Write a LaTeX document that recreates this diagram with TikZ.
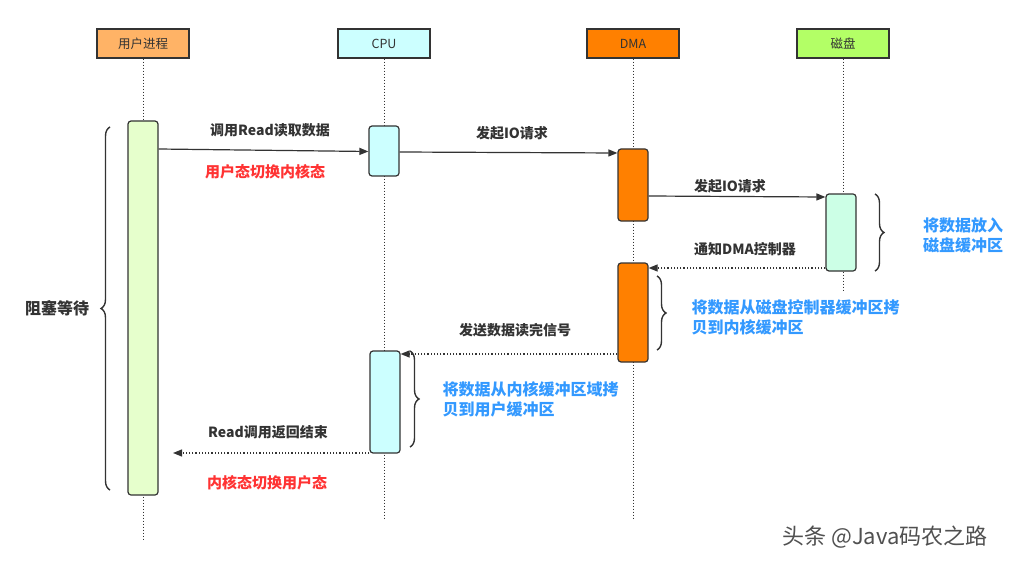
\documentclass[tikz,border=0pt]{standalone}
\usepackage{fontspec}
\setmainfont{Noto Sans CJK SC}
\usetikzlibrary{arrows.meta,decorations.pathreplacing}
\definecolor{ln}{HTML}{333333}
\definecolor{redt}{HTML}{FF3333}
\definecolor{bluet}{HTML}{3399FF}
\tikzset{
  head/.style={draw=ln,line width=1.2pt,minimum width=92pt,minimum height=29pt,font=\fontsize{12.5}{14}\selectfont,text=ln,inner sep=0pt},
  act/.style={draw=ln,line width=1.2pt,rounded corners=3pt,minimum width=30pt,inner sep=0pt},
  life/.style={ln,line width=1pt,dotted},
  msg/.style={ln,line width=1.2pt,-{Triangle[length=9pt,width=7pt]}},
  ret/.style={msg,dotted},
  lbl/.style={font=\fontsize{14}{16}\selectfont\bfseries,text=ln},
  red/.style={font=\fontsize{15}{17}\selectfont\bfseries,text=redt},
  blue/.style={font=\fontsize{16}{20}\selectfont\bfseries,text=bluet,align=left},
  br/.style={decorate,decoration={brace,amplitude=9pt},ln,line width=1.4pt}
}
\begin{document}
\begin{tikzpicture}[x=1pt,y=-1pt]
\useasboundingbox[fill=white] (0,0) rectangle (1027,564);
% headers
\node[head,fill={rgb,255:red,255;green,179;blue,102}] (hu) at (143,43.5) {用户进程};
\node[head,fill={rgb,255:red,204;green,255;blue,255}] (hc) at (384,43.5) {CPU};
\node[head,fill={rgb,255:red,255;green,128;blue,0}] (hd) at (633,43.5) {DMA};
\node[head,fill={rgb,255:red,179;green,255;blue,102}] (hk) at (843,43.5) {磁盘};
\coordinate (eu) at (143,540);
\coordinate (ec) at (384,520);
\coordinate (ed) at (633,520);
\coordinate (ek) at (843,290);
\draw[life] (hu) -- (eu);
\draw[life] (hc) -- (ec);
\draw[life] (hd) -- (ed);
\draw[life] (hk) -- (ek);
% activations
\node[act,fill={rgb,255:red,230;green,255;blue,204},minimum height=374pt] (au) at (143,308) {};
\node[act,fill={rgb,255:red,204;green,255;blue,255},minimum height=50pt] (ac1) at (384,151) {};
\node[act,fill={rgb,255:red,255;green,128;blue,0},minimum height=72pt] (ad1) at (633,185) {};
\node[act,fill={rgb,255:red,204;green,255;blue,230},minimum height=77pt] (ak) at (841,232.5) {};
\node[act,fill={rgb,255:red,255;green,128;blue,0},minimum height=99pt] (ad2) at (633,312.5) {};
\node[act,fill={rgb,255:red,204;green,255;blue,255},minimum height=102pt] (ac2) at (385,402) {};
% messages
\draw[msg] (au.east |- 0,149) -- (ac1.west |- 0,151.5);
\draw[msg] (ac1.east |- 0,152) -- (ad1.west |- 0,153);
\draw[msg] (ad1.east |- 0,196) -- (ak.west |- 0,197);
\draw[ret] (ak.west |- 0,268) -- (ad2.east |- 0,268);
\draw[ret] (ad2.west |- 0,354) -- (ac2.east |- 0,354);
\coordinate (rt) at (173,453);
\draw[ret] (ac2.west |- 0,453) -- (rt);
% labels
\node[lbl] (l1) at (270,130) {调用Read读取数据};
\node[red] (r1) at (265,172) {用户态切换内核态};
\node[lbl] (l2) at (512,133) {发起IO请求};
\node[lbl] (l3) at (730,186) {发起IO请求};
\node[lbl] (l4) at (745,249) {通知DMA控制器};
\node[lbl] (l5) at (515,330) {发送数据读完信号};
\node[lbl] (l6) at (268,432) {Read调用返回结束};
\node[red] (r2) at (267,483) {内核态切换用户态};
% braces
\draw[br] (110,490) -- (110,127);
\node[font=\fontsize{16}{18}\selectfont\bfseries,text=ln] (bw) at (57,308) {阻塞等待};
\draw[br] (875,194) -- (875,271);
\node[blue] (b1) at (963,235) {将数据放入\\磁盘缓冲区};
\draw[br] (657,276) -- (657,350);
\node[blue,anchor=west] (b2) at (688,317) {将数据从磁盘控制器缓冲区拷\\贝到内核缓冲区};
\draw[br] (410,351) -- (410,447);
\node[blue,anchor=west] (b3) at (439,399) {将数据从内核缓冲区域拷\\贝到用户缓冲区};
\node[font=\fontsize{22}{24}\selectfont,text={rgb,255:red,80;green,80;blue,80}] (wm) at (885,537) {头条 @Java码农之路};
\end{tikzpicture}
\end{document}
